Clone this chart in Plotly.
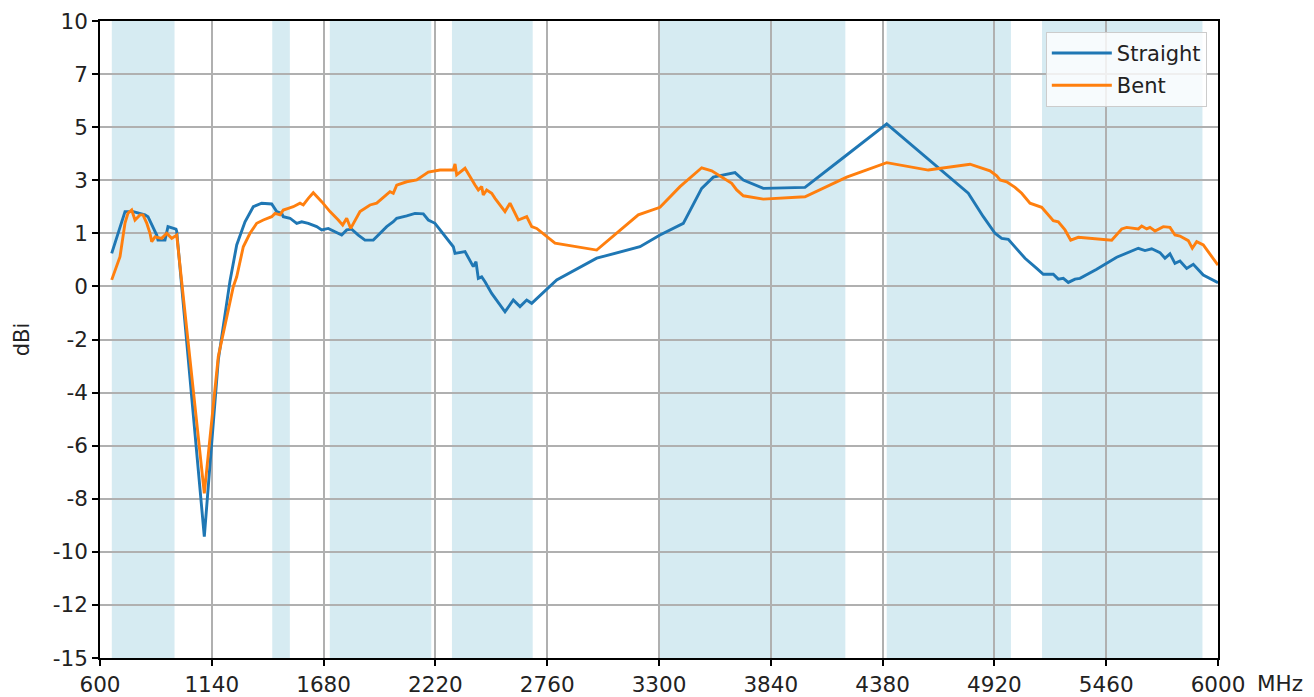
import numpy as np
import plotly.graph_objects as go

# ---- data ----
straight_mhz = [656.5, 720.8, 760.8, 817.4, 831.8, 873.9, 880.1, 913.9, 928.4, 967.1, 970.5,
                1103.8, 1171.4, 1227.9, 1260.3, 1300.4, 1340.4, 1381.0, 1429.3, 1453.5, 1477.6,
                1485.3, 1517.7, 1550.0, 1574.2, 1606.1, 1646.6, 1670.8, 1702.7, 1735.0, 1767.4,
                1791.6, 1815.7, 1847.6, 1879.9, 1920.0, 1952.4, 1984.8, 2016.6, 2033.1, 2081.4,
                2121.5, 2161.6, 2185.7, 2218.0, 2242.2, 2290.5, 2306.5, 2314.7, 2363.0, 2403.1,
                2416.1, 2427.2, 2443.6, 2459.6, 2491.9, 2556.2, 2596.3, 2628.6, 2661.0, 2685.1,
                2805.9, 2999.1, 3208.2, 3304.8, 3417.4, 3506.2, 3562.2, 3667.1, 3707.2, 3803.8,
                4005.2, 4206.6, 4399.8, 4793.9, 4866.4, 4922.9, 4955.2, 4987.1, 5067.8, 5124.3,
                5156.2, 5204.5, 5228.6, 5252.8, 5276.9, 5309.3, 5333.4, 5414.1, 5510.7, 5615.1,
                5647.4, 5679.7, 5719.8, 5743.9, 5768.0, 5792.2, 5816.3, 5848.7, 5880.6, 5928.9,
                6000.0]
straight_dbi = [0.88, 2.52, 2.52, 2.39, 2.32, 1.60, 1.40, 1.40, 1.93, 1.83, 1.75,
                -10.24, -3.30, -0.20, 1.21, 2.12, 2.71, 2.85, 2.82, 2.52, 2.45,
                2.32, 2.26, 2.06, 2.12, 2.06, 1.93, 1.80, 1.86, 1.73, 1.60,
                1.80, 1.83, 1.60, 1.40, 1.40, 1.67, 1.93, 2.12, 2.26, 2.35,
                2.45, 2.43, 2.19, 2.06, 1.80, 1.28, 1.14, 0.88, 0.95, 0.36,
                0.55, -0.10, -0.04, -0.23, -0.69, -1.41, -0.95, -1.21, -0.95, -1.08,
                -0.16, 0.69, 1.14, 1.60, 2.06, 3.43, 3.87, 4.05, 3.76, 3.43,
                3.47, 4.74, 5.96, 3.24, 2.32, 1.67, 1.47, 1.43, 0.69, 0.29,
                0.06, 0.06, -0.13, -0.10, -0.26, -0.13, -0.10, 0.26, 0.73, 1.08,
                0.99, 1.06, 0.91, 0.69, 0.86, 0.49, 0.58, 0.29, 0.45, 0.03,
                -0.27]

bent_mhz = [656.5, 696.6, 720.8, 735.2, 753.1, 769.0, 793.2, 807.7, 825.6, 841.5, 849.7,
            865.7, 898.0, 922.2, 946.3, 970.5, 1103.8, 1171.4, 1243.8, 1260.3, 1292.1,
            1324.5, 1356.9, 1388.8, 1429.3, 1445.3, 1469.4, 1485.3, 1509.5, 1533.6, 1566.0,
            1581.9, 1606.1, 1630.2, 1670.8, 1710.9, 1751.0, 1772.2, 1791.6, 1810.9, 1855.8,
            1904.1, 1936.4, 1984.8, 2000.7, 2016.6, 2033.1, 2081.4, 2129.7, 2185.7, 2242.2,
            2306.5, 2314.7, 2322.9, 2363.0, 2411.3, 2427.2, 2443.6, 2451.3, 2467.8, 2491.9,
            2507.9, 2556.2, 2580.3, 2620.4, 2661.0, 2685.1, 2709.3, 2797.7, 2999.1, 3200.0,
            3304.8, 3401.4, 3506.2, 3554.5, 3651.1, 3675.3, 3707.2, 3803.8, 4005.2, 4206.6,
            4399.8, 4600.7, 4802.1, 4898.7, 4931.1, 4947.0, 4979.4, 5019.5, 5051.8, 5091.9,
            5148.4, 5204.5, 5228.6, 5261.0, 5288.5, 5325.3, 5486.5, 5534.9, 5559.0, 5615.1,
            5631.5, 5655.6, 5671.5, 5695.7, 5735.7, 5768.0, 5792.2, 5816.3, 5856.4, 5875.8,
            5897.0, 5928.9, 6000.0]
bent_dbi = [-0.16, 0.75, 2.07, 2.46, 2.58, 2.19, 2.39, 2.39, 2.07, 1.67, 1.34,
            1.53, 1.47, 1.67, 1.47, 1.60, -8.54, -3.17, -0.43, -0.04, 1.14,
            1.67, 2.06, 2.19, 2.32, 2.45, 2.39, 2.58, 2.65, 2.71, 2.85,
            2.78, 3.04, 3.26, 2.91, 2.52, 2.19, 1.99, 2.26, 1.86, 2.52,
            2.78, 2.85, 3.17, 3.30, 3.24, 3.56, 3.69, 3.76, 4.07, 4.15,
            4.15, 4.39, 3.96, 4.22, 3.56, 3.37, 3.50, 3.17, 3.37, 3.24,
            3.04, 2.52, 2.85, 2.19, 2.32, 1.93, 1.86, 1.28, 1.01, 2.39,
            2.69, 3.50, 4.24, 4.12, 3.63, 3.37, 3.14, 3.01, 3.10, 3.87,
            4.44, 4.15, 4.38, 4.12, 3.92, 3.76, 3.69, 3.47, 3.24, 2.85,
            2.69, 2.16, 2.12, 1.80, 1.40, 1.51, 1.40, 1.84, 1.90, 1.84,
            1.95, 1.84, 1.90, 1.76, 1.93, 1.90, 1.60, 1.56, 1.38, 1.08,
            1.34, 1.21, 0.42]

band_starts = [657, 1432, 1710, 2300, 3300, 4400, 5150]
band_ends = [960, 1517, 2200, 2690, 4200, 5000, 5925]

x_tick_vals = [600, 1140, 1680, 2220, 2760, 3300, 3840, 4380, 4920, 5460, 6000]
y_tick_vals = list(np.linspace(-15, 10, 13))
y_tick_labels = ["-15", "-12", "-10", "-8", "-6", "-4", "-2", "0", "1", "3", "5", "7", "10"]

FONT = "DejaVu Sans"
FS = 21.5

fig = go.Figure()

fig.add_trace(go.Scatter(x=straight_mhz, y=straight_dbi, mode="lines", name="Straight",
                         legendgroup="a", line=dict(color="#1f77b4", width=2.9)))
fig.add_trace(go.Scatter(x=bent_mhz, y=bent_dbi, mode="lines", name="Bent",
                         legendgroup="b", line=dict(color="#ff7f0e", width=2.9)))

for s, e in zip(band_starts, band_ends):
    fig.add_vrect(x0=s, x1=e, fillcolor="rgba(173,216,230,0.5)", line_width=0, layer="below")

fig.update_layout(
    width=1306, height=689,
    margin=dict(l=92, r=96, t=13, b=39),
    plot_bgcolor="white", paper_bgcolor="white",
    font=dict(family=FONT, size=FS, color="#222"),
    showlegend=True,
    legend=dict(x=0.99, y=0.983, xanchor="right", yanchor="top",
                bgcolor="rgba(255,255,255,0.8)", bordercolor="#cccccc", borderwidth=1,
                font=dict(family=FONT, size=21, color="#222"), itemwidth=60,
                tracegroupgap=2),
    annotations=[dict(text="MHz", xref="paper", yref="paper", x=1.0, y=0,
                      xanchor="left", yanchor="middle", xshift=37, yshift=-25,
                      showarrow=False, font=dict(family=FONT, size=FS, color="#222"))],
)

fig.update_xaxes(range=[600, 6000], tickvals=x_tick_vals, automargin=False,
                 showgrid=True, gridcolor="#b0b0b0", gridwidth=1.5,
                 showline=True, linecolor="black", linewidth=1.6, mirror=True,
                 ticks="outside", ticklen=6, tickwidth=1.5, tickcolor="black",
                 zeroline=False)
fig.update_yaxes(range=[-15, 10], tickvals=y_tick_vals, ticktext=y_tick_labels, automargin=False,
                 title=dict(text="dBi", font=dict(family=FONT, size=21), standoff=17),
                 showgrid=True, gridcolor="#b0b0b0", gridwidth=1.5,
                 showline=True, linecolor="black", linewidth=1.6, mirror=True,
                 ticks="outside", ticklen=6, tickwidth=1.5, tickcolor="black",
                 zeroline=False)

fig.write_html("out.html")
